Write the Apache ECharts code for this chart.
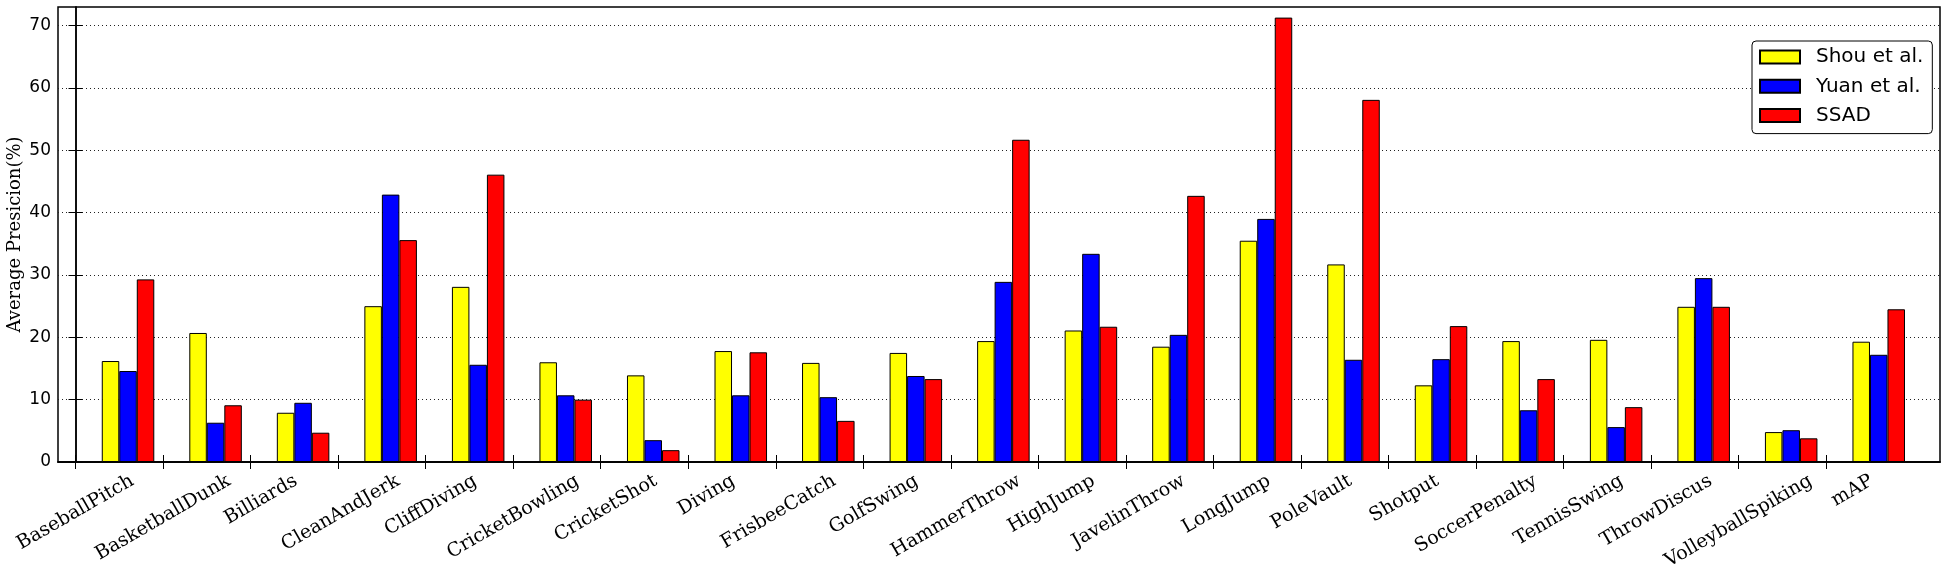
<!DOCTYPE html>
<html>
<head>
<meta charset="utf-8">
<script src="https://cdn.jsdelivr.net/npm/echarts@6/dist/echarts.min.js"></script>
<style>
html,body{margin:0;padding:0;background:#fff;}
#chart{width:1951px;height:569px;}
</style>
</head>
<body>
<div id="chart"></div>
<script>
const categories = ['BaseballPitch','BasketballDunk','Billiards','CleanAndJerk','CliffDiving','CricketBowling','CricketShot','Diving','FrisbeeCatch','GolfSwing','HammerThrow','HighJump','JavelinThrow','LongJump','PoleVault','Shotput','SoccerPenalty','TennisSwing','ThrowDiscus','VolleyballSpiking','mAP'];
const shou = [16.2,20.7,7.9,25.0,28.1,16.0,13.9,17.8,15.9,17.5,19.4,21.1,18.5,35.5,31.7,12.3,19.4,19.6,24.9,4.8,19.3];
const yuan = [14.6,6.3,9.5,42.9,15.6,10.7,3.5,10.7,10.4,13.8,28.9,33.4,20.4,39.0,16.4,16.5,8.3,5.6,29.5,5.1,17.2];
const ssad = [29.3,9.1,4.7,35.6,46.1,10.0,1.9,17.6,6.6,13.3,51.7,21.7,42.7,71.3,58.1,21.8,13.3,8.8,24.9,3.8,24.5];
const seriesNames = ['Shou et al.','Yuan et al.','SSAD'];
const yTicks = [0,10,20,30,40,50,60,70];

const W = 1951, gridLeft = 58, gridRight = 11, gridTop = 7, gridBottom = 107;
const xMin = -0.2, xMax = 21.3;
const unit = (W - gridLeft - gridRight) / (xMax - xMin);
const barW = 0.2 * unit;
const tickPos = categories.map((c, i) => i);

// category labels: right-justified in a 13-character field, rotated 30deg,
// the field's rotated bounding box centred on the tick with its top just under the axis
const labelFont = 19, labelFamily = 'DejaVu Serif', fieldChars = 13;
const ang = Math.PI / 6;
const ctx = document.createElement('canvas').getContext('2d');
ctx.font = labelFont + 'px "' + labelFamily + '"';
const labelShift = categories.map(c => {
  const L = ctx.measureText(c).width;
  const Lf = ctx.measureText(c.padStart(fieldChars, ' ')).width;
  const H = labelFont * 1.17;
  const drop = 8 + (Lf * Math.sin(ang) + H * Math.cos(ang)) / 2;
  const along = (Lf - L) / 2;
  return [along * Math.cos(ang), drop - along * Math.sin(ang)];
});

function mk(vals) { return vals.map((v, i) => [i + 0.6, v]); }
const colors = ['#ffff00', '#0000ff', '#ff0000'];
const frame = {show: true, lineStyle: {color: '#000', width: 1.5}};
const tickStyle = {color: '#000', width: 1};

const chart = echarts.init(document.getElementById('chart'), null, {renderer: 'canvas'});
chart.setOption({
  animation: false,
  backgroundColor: '#fff',
  grid: {left: gridLeft, right: gridRight, top: gridTop, bottom: gridBottom, containLabel: false, outerBoundsMode: 'none',
         show: true, borderColor: '#000', borderWidth: 1.5, backgroundColor: 'transparent'},
  legend: {
    orient: 'vertical', left: 1752, top: 41,
    data: seriesNames,
    icon: 'rect', itemWidth: 40, itemHeight: 13, itemGap: 9.3,
    padding: [6, 9, 8, 7],
    borderColor: '#000', borderWidth: 1, borderRadius: 4, backgroundColor: '#fff',
    textStyle: {fontFamily: 'DejaVu Sans', fontSize: 20, color: '#000', padding: [0, 0, 0, 11]}
  },
  xAxis: [{
    type: 'value', min: xMin, max: xMax, position: 'bottom',
    axisLine: frame,
    axisTick: {show: true, inside: true, length: 7, customValues: tickPos, lineStyle: tickStyle},
    splitLine: {show: false},
    axisLabel: {show: false}
  }, {
    type: 'value', min: xMin, max: xMax, position: 'top',
    axisLine: frame,
    axisTick: {show: true, inside: true, length: 7, customValues: tickPos, lineStyle: tickStyle},
    splitLine: {show: false}, axisLabel: {show: false}
  }],
  yAxis: [{
    type: 'value', min: 0, max: 73, interval: 10, position: 'left',
    name: 'Average Presicion(%)', nameLocation: 'middle', nameGap: 34, nameRotate: 90, nameMoveOverlap: false,
    nameTextStyle: {fontFamily: 'DejaVu Serif', fontSize: 18, color: '#000'},
    axisLine: frame,
    axisTick: {show: true, inside: true, length: 7, customValues: yTicks, lineStyle: tickStyle},
    axisLabel: {fontFamily: 'DejaVu Sans', fontSize: 17, color: '#000', margin: 7, customValues: yTicks},
    splitLine: {show: true, lineStyle: {color: '#222', width: 1, type: [1, 3]}}
  }, {
    type: 'value', min: 0, max: 73, interval: 10, position: 'right',
    axisLine: frame,
    axisTick: {show: true, inside: true, length: 7, customValues: yTicks, lineStyle: tickStyle},
    axisLabel: {show: false}, splitLine: {show: false}
  }],
  series: [shou, yuan, ssad].map((vals, k) => ({
    name: seriesNames[k], type: 'bar', xAxisIndex: 0, yAxisIndex: 0,
    data: mk(vals), barWidth: barW, barGap: '0%',
    itemStyle: {color: colors[k], borderColor: '#000', borderWidth: 1}
  })).concat([{
    type: 'line', xAxisIndex: 1, yAxisIndex: 1, data: [], silent: true, showSymbol: false
  }, {
    type: 'custom', xAxisIndex: 0, yAxisIndex: 0, silent: true, clip: false, z: 5,
    data: tickPos.map(i => [i, 0]),
    renderItem: (params, api) => {
      const i = params.dataIndex;
      const p = api.coord([api.value(0), 0]);
      return {
        type: 'text', x: p[0] + labelShift[i][0], y: p[1] + labelShift[i][1], rotation: ang,
        style: {text: categories[i], fill: '#000', fontSize: labelFont, fontFamily: labelFamily,
                align: 'center', verticalAlign: 'middle', textAlign: 'center', textVerticalAlign: 'middle'}
      };
    }
  }])
});
</script>
</body>
</html>
